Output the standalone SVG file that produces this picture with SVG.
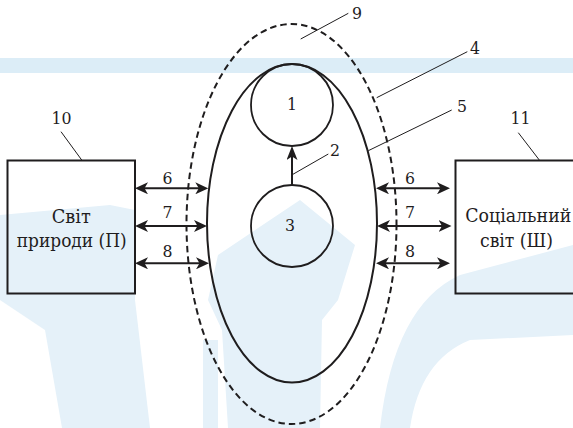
<svg xmlns="http://www.w3.org/2000/svg" width="573" height="428" viewBox="0 0 573 428">
<defs>
<style>
.wm{fill:#e5f1f9;stroke:none}
.shape{fill:none;stroke:#1f1d1e;stroke-width:2}
.circ{fill:none;stroke:#1f1d1e;stroke-width:1.8}
.dash{fill:none;stroke:#1f1d1e;stroke-width:2;stroke-dasharray:6.5 4}
.lead{fill:none;stroke:#1f1d1e;stroke-width:1}
.arr{fill:none;stroke:#1f1d1e;stroke-width:2;marker-start:url(#ah);marker-end:url(#ah)}
.num{font-size:17.5px;text-anchor:middle;font-family:"DejaVu Serif Condensed","DejaVu Serif",serif}
.lbl{font-size:19px;text-anchor:middle;font-family:"DejaVu Serif Condensed","DejaVu Serif",serif}
</style>
<marker id="ah" viewBox="0 0 13 12" refX="9" refY="6" markerWidth="13" markerHeight="12" markerUnits="userSpaceOnUse" orient="auto-start-reverse">
<path d="M0,0 L13,6 L0,12 L3.5,6 Z" fill="#1f1d1e"/>
</marker>
<marker id="ah2" viewBox="0 0 14 11" refX="10" refY="5.5" markerWidth="14" markerHeight="11" markerUnits="userSpaceOnUse" orient="auto">
<path d="M0,0 L14,5.5 L0,11 L3.5,5.5 Z" fill="#1f1d1e"/>
</marker>
</defs>
<rect width="573" height="428" fill="#ffffff"/>
<g id="watermark">
<rect x="0" y="58" width="573" height="15" fill="#dcedf7"/>
<polygon class="wm" points="0,215 110,205 135,210 135,300 150,428 62,428 45,330 0,300"/>
<polygon class="wm" points="218,255 300,200 355,245 338,300 322,320 320,428 228,428 222,330 208,300"/>
<rect class="wm" x="203" y="340" width="15" height="88"/>
<path class="wm" d="M380,428 Q394,305 460,275 L573,245 L573,335 L470,340 Q420,360 410,428 Z"/>
</g>
<g id="node-9-outer">
<ellipse class="dash" cx="291.5" cy="224" rx="105" ry="200"/>
</g>
<g id="node-5-inner">
<ellipse class="shape" cx="292" cy="223.3" rx="85" ry="159.3"/>
</g>
<g fill="#1f1d1e">
<g id="node-1">
<circle class="circ" cx="292" cy="105" r="41"/>
<text class="num" x="292" y="110">1</text>
</g>
<g id="node-3">
<circle class="circ" cx="292" cy="226" r="41"/>
<text class="num" x="290" y="231">3</text>
</g>
<g id="node-10">
<rect class="shape" x="7.5" y="160.5" width="127.5" height="133"/>
<text class="lbl" x="71.2" y="223" textLength="39" lengthAdjust="spacingAndGlyphs">Світ</text>
<text class="lbl" x="71.7" y="247" textLength="110" lengthAdjust="spacingAndGlyphs">природи (П)</text>
</g>
<g id="node-11">
<rect class="shape" x="455.5" y="160.5" width="130" height="133"/>
<text class="lbl" x="518.3" y="222" textLength="106" lengthAdjust="spacingAndGlyphs">Соціальний</text>
<text class="lbl" x="516.5" y="247" textLength="73" lengthAdjust="spacingAndGlyphs">світ (Ш)</text>
</g>
<g id="connectors">
<line class="arr" x1="139" y1="188.3" x2="204.3" y2="188.3"/>
<line class="arr" x1="139" y1="226" x2="203" y2="226"/>
<line class="arr" x1="139" y1="263.3" x2="205" y2="263.3"/>
<line class="arr" x1="380" y1="188.3" x2="446" y2="188.3"/>
<line class="arr" x1="381" y1="226" x2="447.5" y2="226"/>
<line class="arr" x1="380" y1="263.3" x2="446" y2="263.3"/>
<line class="shape" x1="292" y1="185" x2="292" y2="150" marker-end="url(#ah2)"/>
<line class="lead" x1="291.7" y1="175" x2="328.3" y2="154"/>
<line class="lead" x1="300.7" y1="39" x2="348.3" y2="13.3"/>
<line class="lead" x1="376.7" y1="97.7" x2="467.3" y2="51.7"/>
<line class="lead" x1="368.3" y1="150.7" x2="451.7" y2="110"/>
<line class="lead" x1="61" y1="131.7" x2="81.7" y2="160"/>
<line class="lead" x1="518.3" y1="132.7" x2="539.3" y2="160"/>
</g>
<g id="labels">
<text class="num" x="167.5" y="183.5">6</text>
<text class="num" x="167.5" y="218">7</text>
<text class="num" x="167.5" y="256.5">8</text>
<text class="num" x="410" y="183.5">6</text>
<text class="num" x="410" y="218">7</text>
<text class="num" x="410" y="256.5">8</text>
<text class="num" x="335" y="156">2</text>
<text class="num" x="357" y="18.5">9</text>
<text class="num" x="475" y="53.5">4</text>
<text class="num" x="462" y="112">5</text>
<text class="num" x="61.5" y="124">10</text>
<text class="num" x="520.5" y="124">11</text>
</g>
</g>
</svg>
